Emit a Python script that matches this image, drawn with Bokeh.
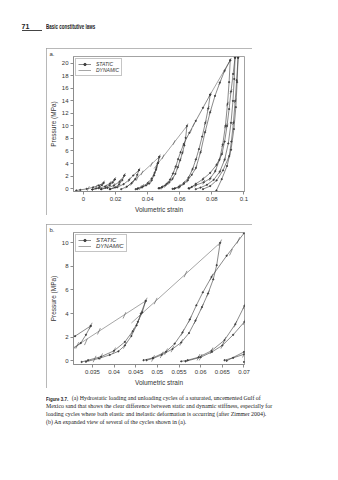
from bokeh.plotting import figure
from bokeh.models import Range1d, FixedTicker, Legend, LegendItem, Div, Spacer
from bokeh.layouts import column
from bokeh.embed import file_html
from bokeh.resources import INLINE

# ---------------- data ----------------
# static loading / unloading curves (volumetric strain, pressure MPa)
STATIC_X = [
    [-0.0045, -0.0020, 0.0020, 0.0060, 0.0095, 0.0125],
    [0.0125, 0.0115, 0.0100, 0.0078, 0.0055],
    [0.0055, 0.0095, 0.0135, 0.0165, 0.0195],
    [0.0195, 0.0182, 0.0163, 0.0138, 0.0110],
    [0.0110, 0.0150, 0.0190, 0.0225, 0.0255],
    [0.0255, 0.0242, 0.0222, 0.0197, 0.0165],
    [0.0165, 0.0210, 0.0250, 0.0285, 0.0310, 0.0346],
    [0.0346, 0.0335, 0.0323, 0.0300, 0.0270, 0.0235],
    [0.0473, 0.0465, 0.0455, 0.0443, 0.0425, 0.0400, 0.0370, 0.0340, 0.0325],
    [0.0335, 0.0365, 0.0390, 0.0410, 0.0425, 0.0440, 0.0452, 0.0462, 0.0473],
    [0.0645, 0.0637, 0.0629, 0.0617, 0.0603, 0.0588, 0.0573, 0.0555, 0.0535, 0.0510, 0.0490, 0.0475],
    [0.0468, 0.0490, 0.0520, 0.0540, 0.0558, 0.0575, 0.0590, 0.0605, 0.0625, 0.0660, 0.0700, 0.0745, 0.0790],
    [0.0790, 0.0778, 0.0760, 0.0740, 0.0720, 0.0701, 0.0680, 0.0655, 0.0625, 0.0595, 0.0570, 0.0555],
    [0.0565, 0.0600, 0.0626, 0.0650, 0.0675, 0.0701, 0.0730, 0.0758, 0.0790, 0.0820, 0.0850, 0.0880, 0.0915],
    [0.0915, 0.0908, 0.0898, 0.0885, 0.0868, 0.0848, 0.0822, 0.0790, 0.0750, 0.0700, 0.0675, 0.0655],
    [0.0660, 0.0700, 0.0745, 0.0790, 0.0830, 0.0863, 0.0880, 0.0895, 0.0908, 0.0920, 0.0933, 0.0945],
    [0.0945, 0.0940, 0.0932, 0.0920, 0.0903, 0.0880, 0.0850, 0.0812, 0.0770, 0.0730, 0.0700],
    [0.0745, 0.0790, 0.0830, 0.0870, 0.0909, 0.0922, 0.0935, 0.0946, 0.0955, 0.0964],
    [0.0964, 0.0958, 0.0950, 0.0938, 0.0920, 0.0895, 0.0862, 0.0829],
]
STATIC_Y = [
    [-0.30, -0.22, -0.05, 0.20, 0.50, 0.90],
    [0.90, 0.55, 0.25, 0.02, -0.15],
    [-0.15, 0.05, 0.35, 0.80, 1.45],
    [1.45, 0.95, 0.50, 0.15, -0.10],
    [-0.10, 0.10, 0.50, 1.10, 2.10],
    [2.10, 1.35, 0.65, 0.20, -0.10],
    [-0.10, 0.20, 0.70, 1.40, 2.09, 2.95],
    [2.95, 2.20, 1.50, 0.85, 0.30, -0.10],
    [5.07, 4.10, 3.30, 2.50, 1.60, 0.85, 0.35, 0.05, -0.10],
    [-0.08, 0.20, 0.50, 0.80, 1.30, 2.10, 3.00, 4.00, 5.07],
    [10.0, 8.1, 6.9, 5.7, 4.55, 3.4, 2.35, 1.55, 1.00, 0.50, 0.20, 0.05],
    [0.05, 0.25, 0.77, 1.45, 2.40, 3.50, 4.70, 5.80, 7.10, 8.90, 10.80, 12.90, 15.00],
    [15.0, 12.8, 10.5, 8.3, 6.3, 4.65, 3.1, 1.75, 0.85, 0.30, 0.05, -0.05],
    [-0.05, 0.30, 0.75, 1.30, 2.20, 3.30, 5.80, 9.00, 12.20, 14.80, 16.90, 18.80, 20.50],
    [20.5, 17.0, 13.5, 10.0, 7.0, 4.6, 2.8, 1.6, 1.0, 0.55, 0.25, 0.05],
    [0.0, 0.75, 1.5, 2.5, 3.8, 5.5, 7.5, 10.0, 12.7, 15.5, 18.3, 20.9],
    [20.9, 17.5, 14.0, 10.5, 7.2, 4.6, 2.7, 1.4, 0.6, 0.15, -0.10],
    [-0.10, 0.40, 1.30, 2.90, 5.20, 7.50, 10.50, 14.00, 17.30, 20.90],
    [20.9, 17.0, 13.0, 9.5, 6.2, 3.6, 1.5, -0.3],
]

# dynamic straight segments
DYN_X = [
    [0.0262, 0.0473],
    [0.0440, 0.0645],
    [0.0790, 0.0915],
]
DYN_Y = [
    [0.05, 5.07],
    [3.20, 10.0],
    [15.0, 20.5],
]

# dynamic stiffness ticks (positions along the cycles)
TICK_X = [0.0030, 0.0080, 0.0125, 0.0100, 0.0165, 0.0195, 0.0140, 0.0190, 0.0225, 0.0255,
          0.0220, 0.0285, 0.0346, 0.0300, 0.0335, 0.0315, 0.0365, 0.0424, 0.0473,
          0.0355, 0.0370, 0.0400, 0.0425, 0.0443, 0.0455, 0.0462,
          0.0496, 0.0565, 0.0645,
          0.0490, 0.0510, 0.0520, 0.0535, 0.0555, 0.0558, 0.0575, 0.0588, 0.0603, 0.0617,
          0.0625, 0.0670, 0.0687,
          0.0595, 0.0600, 0.0625, 0.0650, 0.0655, 0.0680, 0.0701, 0.0701,
          0.0730, 0.0758, 0.0760, 0.0790, 0.0778, 0.0790, 0.0850, 0.0880, 0.0915,
          0.0700, 0.0750, 0.0790, 0.0822, 0.0848, 0.0868, 0.0885, 0.0898,
          0.0745, 0.0830, 0.0863, 0.0895, 0.0920, 0.0909, 0.0935, 0.0946,
          0.0850, 0.0880]
TICK_Y = [0.00, 0.25, 0.90, 0.35, 0.80, 1.45, 0.30, 0.50, 1.10, 2.10,
          0.60, 1.40, 2.95, 0.85, 1.60, 1.30, 2.50, 3.85, 5.07,
          0.15, 0.35, 0.85, 1.30, 2.50, 3.30, 4.00,
          5.06, 7.35, 10.0,
          0.20, 0.50, 0.77, 1.00, 1.55, 2.40, 3.50, 3.40, 4.55, 5.70,
          7.10, 9.20, 10.20,
          0.30, 0.30, 0.85, 1.30, 1.75, 3.10, 3.30, 4.65,
          5.80, 9.00, 10.50, 12.20, 12.80, 15.00, 16.90, 18.80, 20.50,
          0.55, 1.00, 1.60, 2.80, 4.60, 7.00, 10.00, 13.50,
          1.50, 3.80, 5.50, 10.00, 15.50, 5.20, 10.50, 14.00,
          2.70, 4.60]

XTICKS_A = [0, 0.02, 0.04, 0.06, 0.08, 0.1]
XLABELS_A = ["0", "0.02", "0.04", "0.06", "0.08", "0.1"]
YTICKS_A = [0, 2, 4, 6, 8, 10, 12, 14, 16, 18, 20]
XTICKS_B = [0.035, 0.04, 0.045, 0.05, 0.055, 0.06, 0.065, 0.07]
XLABELS_B = ["0.035", "0.04", "0.045", "0.05", "0.055", "0.06", "0.065", "0.07"]
YTICKS_B = [0, 2, 4, 6, 8, 10]

SERIES = ["STATIC", "DYNAMIC"]

# ---------------- styling ----------------
FONT = "Liberation Sans"
AX = "#8c8c8c"


def make_panel(xr, yr, xticks, xlabels, yticks, h, top, bottom, tag, leg_font, tick_size):
    p = figure(width=206, height=h, x_range=Range1d(*xr), y_range=Range1d(*yr),
               output_backend="svg", toolbar_location=None, title=tag,
               min_border_left=22, min_border_right=8,
               min_border_top=top, min_border_bottom=bottom, margin=(0, 0, 0, 46))
    p.styles = {"outline": "1px solid #a0a0a0", "outline-offset": "-1px"}
    p.grid.visible = False
    p.outline_line_color = AX
    p.outline_line_width = 0.8
    p.background_fill_color = "white"
    p.border_fill_color = "white"

    # panel tag "a." / "b." as a small left-shifted title
    p.title.align = "left"
    p.title.offset = -24
    p.title.standoff = 0
    p.title.text_font = FONT
    p.title.text_font_size = "6px"
    p.title.text_font_style = "normal"
    p.title.text_color = "#333333"

    flat_x = [v for c in STATIC_X for v in c]
    flat_y = [v for c in STATIC_Y for v in c]
    r_dyn = p.multi_line(DYN_X, DYN_Y, line_color="#6a6a6a", line_width=0.6)
    r_stat = p.multi_line(STATIC_X, STATIC_Y, line_color="#3a3a3a", line_width=0.6)
    r_dots = p.scatter(flat_x, flat_y, marker="circle", size=1.3, color="#333333", alpha=0.8)
    p.scatter(TICK_X, TICK_Y, marker="dash", size=tick_size, angle=1.15,
              line_color="#505050", line_width=0.6)

    legend = Legend(items=[LegendItem(label=SERIES[0], renderers=[r_stat, r_dots]),
                           LegendItem(label=SERIES[1], renderers=[r_dyn])],
                    location="top_left")
    legend.margin = 2
    legend.padding = 2
    legend.spacing = 0
    legend.glyph_width = 13
    legend.glyph_height = 6
    legend.label_height = 6
    legend.label_standoff = 5
    legend.label_text_font = FONT
    legend.label_text_font_size = leg_font
    legend.label_text_font_style = "italic"
    legend.label_text_color = "#333333"
    legend.border_line_color = AX
    legend.border_line_width = 0.7
    legend.background_fill_alpha = 1
    p.add_layout(legend)

    p.xaxis.ticker = FixedTicker(ticks=xticks)
    p.xaxis.major_label_overrides = dict(zip(xticks, xlabels))
    p.yaxis.ticker = FixedTicker(ticks=yticks)
    p.xaxis.axis_label = "Volumetric strain"
    p.yaxis.axis_label = "Pressure (MPa)"
    for ax in (p.xaxis[0], p.yaxis[0]):
        ax.major_tick_out = 3
        ax.major_tick_in = 0
        ax.minor_tick_out = 0
        ax.minor_tick_in = 0
        ax.axis_line_color = AX
        ax.major_tick_line_color = AX
        ax.major_label_text_font = FONT
        ax.major_label_text_font_size = "6px"
        ax.major_label_text_color = "#333333"
        ax.major_label_standoff = 2
        ax.axis_label_text_font = FONT
        ax.axis_label_text_font_size = "6.5px"
        ax.axis_label_text_font_style = "normal"
        ax.axis_label_text_color = "#333333"
        ax.axis_label_standoff = 2
    return p


pa = make_panel((-0.00624, 0.1004), (-0.47, 21.09), XTICKS_A, XLABELS_A, YTICKS_A,
                167, 8, 21, "a.", "5px", 5)
pb = make_panel((0.03063, 0.07012), (-0.315, 10.87), XTICKS_B, XLABELS_B, YTICKS_B,
                164, 7, 22, "b.", "6px", 7)

header = Div(width=338, height=48, margin=0, text=(
    '<div style="position:relative;width:338px;height:48px;font-family:\'Liberation Sans\';color:#222;">'
    '<div style="position:absolute;left:21.5px;top:23.4px;font-size:7px;line-height:7px;font-weight:bold;">71</div>'
    '<div style="position:absolute;left:21.5px;top:29.6px;width:20px;height:0;border-top:0.6px solid #444;"></div>'
    '<div style="position:absolute;left:46px;top:23.4px;font-size:7px;line-height:7px;font-weight:bold;'
    'white-space:nowrap;transform:scaleX(0.64);transform-origin:left;">Basic constitutive laws</div>'
    '</div>'))

CAPTION = [
    "(a) Hydrostatic loading and unloading cycles of a saturated, uncemented Gulf of",
    "Mexico sand that shows the clear difference between static and dynamic stiffness, especially for",
    "loading cycles where both elastic and inelastic deformation is occurring (after Zimmer 2004).",
    "(b) An expanded view of several of the cycles shown in (a).",
]
tops = [8, 16.3, 24, 31.7]
lines_html = ""
for i, (t, line) in enumerate(zip(tops, CAPTION)):
    left = 71.7 if i == 0 else 46
    lines_html += (f'<div style="position:absolute;left:{left}px;top:{t}px;font-size:5.9px;line-height:5.9px;'
                   f'white-space:nowrap;">{line}</div>')
caption = Div(width=338, height=92, margin=0, text=(
    '<div style="position:relative;width:338px;height:92px;font-family:\'Liberation Serif\';color:#222;">'
    '<div style="position:absolute;left:46px;top:8px;font-family:\'Liberation Sans\';font-weight:bold;'
    'font-size:6px;line-height:6px;white-space:nowrap;transform:scaleX(0.74);transform-origin:left;">Figure 3.7.</div>'
    + lines_html + '</div>'))

page = column(header, pa, Spacer(width=338, height=9), pb, caption, spacing=0)

open("out.html", "w").write(file_html(page, INLINE))
